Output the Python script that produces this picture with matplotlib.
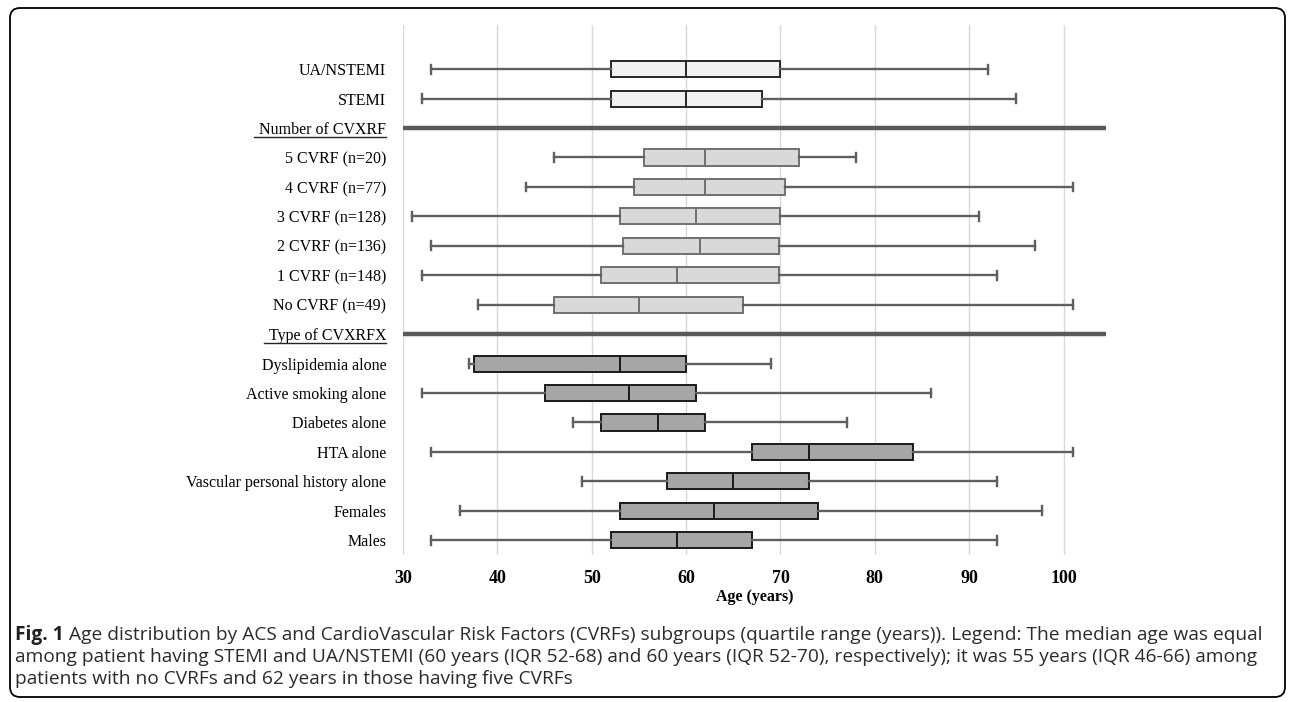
import matplotlib
matplotlib.use('Agg')
import matplotlib.pyplot as plt
from matplotlib.patches import FancyBboxPatch
from matplotlib.lines import Line2D
from matplotlib.transforms import IdentityTransform
from matplotlib import font_manager

# ---- data (ages, years) ----
acs_labels = ["UA/NSTEMI", "STEMI"]
acs_low = [33, 32]
acs_q1 = [52, 52]
acs_med = [60, 60]
acs_q3 = [70, 68]
acs_high = [92, 95]

cvrf_labels = ["5 CVRF (n=20)", "4 CVRF (n=77)", "3 CVRF (n=128)",
               "2 CVRF (n=136)", "1 CVRF (n=148)", "No CVRF (n=49)"]
cvrf_low = [46, 43, 31, 33, 32, 38]
cvrf_q1 = [55.5, 54.5, 53, 53.3, 51, 46]
cvrf_med = [62, 62, 61, 61.5, 59, 55]
cvrf_q3 = [72, 70.5, 70, 69.8, 69.8, 66]
cvrf_high = [78, 101, 91, 97, 93, 101]

type_labels = ["Dyslipidemia alone", "Active smoking alone", "Diabetes alone",
               "HTA alone", "Vascular personal history alone", "Females", "Males"]
type_low = [37, 32, 48, 33, 49, 36, 33]
type_q1 = [37.5, 45, 51, 67, 58, 53, 52]
type_med = [53, 54, 57, 73, 65, 63, 59]
type_q3 = [60, 61, 62, 84, 73, 74, 67]
type_high = [69, 86, 77, 101, 93, 97.7, 93]

headers = ["Number of CVXRF", "Type of CVXRFX"]
xticks = [30, 40, 50, 60, 70, 80, 90, 100]

caption_bold = "Fig. 1"
caption_lines = [
    "Age distribution by ACS and CardioVascular Risk Factors (CVRFs) subgroups (quartile range (years)). Legend: The median age was equal",
    "among patient having STEMI and UA/NSTEMI (60 years (IQR 52-68) and 60 years (IQR 52-70), respectively); it was 55 years (IQR 46-66) among",
    "patients with no CVRFs and 62 years in those having five CVRFs",
]

W, H = 1292, 702
fig = plt.figure(figsize=(W / 100, H / 100), dpi=100)
ax = fig.add_axes([403 / W, 1 - 555 / H, (1106 - 403) / W, (555 - 25) / H])


def make_stats(lo, q1, med, q3, hi):
    return [dict(whislo=a, q1=b, med=c, q3=d, whishi=e, fliers=[])
            for a, b, c, d, e in zip(lo, q1, med, q3, hi)]


# row layout: acs, header, cvrf, header, type
acs_pos = list(range(0, 2))
cvrf_pos = list(range(3, 9))
type_pos = list(range(10, 17))
header_pos = [2, 9]

groups = [
    (make_stats(acs_low, acs_q1, acs_med, acs_q3, acs_high), acs_pos, '#f2f2f2', '#262626'),
    (make_stats(cvrf_low, cvrf_q1, cvrf_med, cvrf_q3, cvrf_high), cvrf_pos, '#d9d9d9', '#707070'),
    (make_stats(type_low, type_q1, type_med, type_q3, type_high), type_pos, '#a6a6a6', '#1a1a1a'),
]
for st, pos, fill, edge in groups:
    ax.bxp(st, positions=pos, orientation='horizontal', widths=0.55, capwidths=0.3,
           patch_artist=True, showfliers=False, manage_ticks=False,
           boxprops=dict(facecolor=fill, edgecolor=edge, lw=1.4),
           medianprops=dict(color=edge, lw=1.4),
           whiskerprops=dict(color='#5f5f5f', lw=1.7),
           capprops=dict(color='#5f5f5f', lw=1.7))

# section separators
for y in header_pos:
    ax.axhline(y, color='#595959', lw=3.2, zorder=3)

ax.set_xlim(30, 104.5)
ax.set_ylim(16.5, -1.5)
ax.set_xticks(xticks)
ax.set_xticklabels([str(v) for v in xticks], fontfamily='Liberation Serif',
                   fontweight='bold', fontsize=13)
ylabels = acs_labels + [headers[0]] + cvrf_labels + [headers[1]] + type_labels
ax.set_yticks(range(len(ylabels)))
ax.set_yticklabels(ylabels, fontfamily='Liberation Serif', fontsize=11.5)
ax.tick_params(axis='both', length=0)
ax.tick_params(axis='y', pad=12)
ax.tick_params(axis='x', pad=11)
ax.set_xlabel("Age (years)", fontfamily='Liberation Serif', fontweight='bold',
              fontsize=11.5, labelpad=1)
ax.grid(axis='x', color='#d9d9d9', lw=1)
ax.set_axisbelow(True)
for s in ax.spines.values():
    s.set_visible(False)

# rounded frame round the figure
frame = FancyBboxPatch((10, 5), 1275, 689, boxstyle='round,pad=0,rounding_size=10',
                       transform=IdentityTransform(), fill=False, ec='black', lw=1.3)
fig.add_artist(frame)

# caption: narrow sans if there is one, sized so line 1 ends near x=1265
installed = {f.name for f in font_manager.fontManager.ttflist}
cap_font = 'Liberation Sans Narrow' if 'Liberation Sans Narrow' in installed else 'Open Sans'
cap_y = [640, 662, 684]
cap_x = 15
fig.canvas.draw()
r = fig.canvas.get_renderer()

size = 10.0
t = fig.text(cap_x / W, 1 - cap_y[0] / H, caption_bold, fontfamily=cap_font,
             fontweight='bold', fontsize=size, va='baseline', color='#231f20')
t1 = fig.text(0, 1 - cap_y[0] / H, caption_lines[0], fontfamily=cap_font,
              fontsize=size, va='baseline', color='#2b2b2b')
wb = t.get_window_extent(r).width
w1 = t1.get_window_extent(r).width
size = size * (1265 - cap_x) / (wb + 5 + w1)
t.set_fontsize(size)
t1.set_fontsize(size)
bb = t.get_window_extent(r)
t1.set_x((bb.x1 + 0.4 * size) / W)
for line, y in zip(caption_lines[1:], cap_y[1:]):
    fig.text(cap_x / W, 1 - y / H, line, fontfamily=cap_font, fontsize=size,
             va='baseline', color='#2b2b2b')

# underline the section headers
for lbl in ax.get_yticklabels():
    if lbl.get_text() in headers:
        e = lbl.get_window_extent(r)
        fig.add_artist(Line2D([e.x0 - 5, e.x1], [e.y0 + 1, e.y0 + 1], color='#262626',
                              lw=1.0, transform=IdentityTransform()))

fig.savefig('out.png', dpi=100)
